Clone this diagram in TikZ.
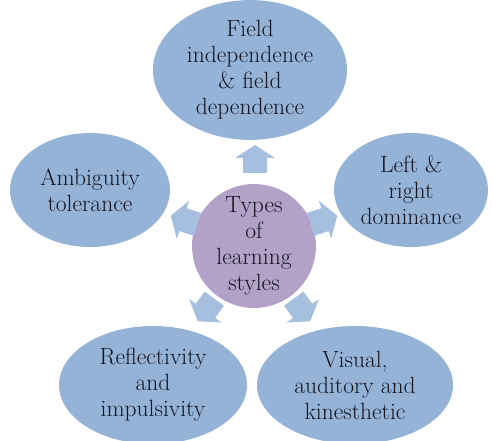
\documentclass[tikz,border=0pt]{standalone}
\usetikzlibrary{shapes.geometric}
\definecolor{ellblue}{HTML}{95B3D7}
\definecolor{arrblue}{HTML}{A7BFDE}
\definecolor{circpurple}{HTML}{B3A2C7}
\definecolor{txt}{HTML}{15151F}
\begin{document}
\begin{tikzpicture}[x=1pt,y=-1pt,
  item/.style={ellipse, fill=ellblue, draw=none, inner sep=0pt, align=center,
    text=txt, font=\rmfamily\fontsize{23.5}{26}\selectfont},
  hub/.style={circle, fill=circpurple, draw=none, minimum size=120pt, inner sep=0pt,
    align=center, text=txt, font=\rmfamily\fontsize{23.5}{26}\selectfont},
  blockarrow/.pic={\fill[arrblue] (-14,-12) -- (1,-12) -- (1,-20) -- (14,0) -- (1,20) -- (1,12) -- (-14,12) -- cycle;}]
\useasboundingbox (0,0) rectangle (493,441);
\clip (0,0) rectangle (493,441);
\fill[white] (0,0) rectangle (493,441);

\node[hub] (hub) at (254,246) {Types\\of\\learning\\styles};

\node[item, minimum width=194pt, minimum height=120pt] (field) at (250,70)
  {Field\\independence\\\& field\\dependence};
\node[item, minimum width=154pt, minimum height=114pt] (dom) at (411,190)
  {Left \&\\right\\dominance};
\node[item, minimum width=160pt, minimum height=114pt] (amb) at (90,190)
  {Ambiguity\\tolerance};
\node[item, minimum width=188pt, minimum height=118pt] (refl) at (153,385)
  {Reflectivity\\and\\impulsivity};
\node[item, minimum width=196pt, minimum height=118pt] (vis) at (355,385)
  {Visual,\\auditory and\\kinesthetic};

\pic[rotate=90] (a1) at (255,159) {blockarrow};
\pic[rotate=18] (a2) at (324,220) {blockarrow};
\pic[rotate=162] (a3) at (184,220) {blockarrow};
\pic[rotate=-54] (a4) at (302,310) {blockarrow};
\pic[rotate=-126] (a5) at (206,310) {blockarrow};
\end{tikzpicture}
\end{document}
